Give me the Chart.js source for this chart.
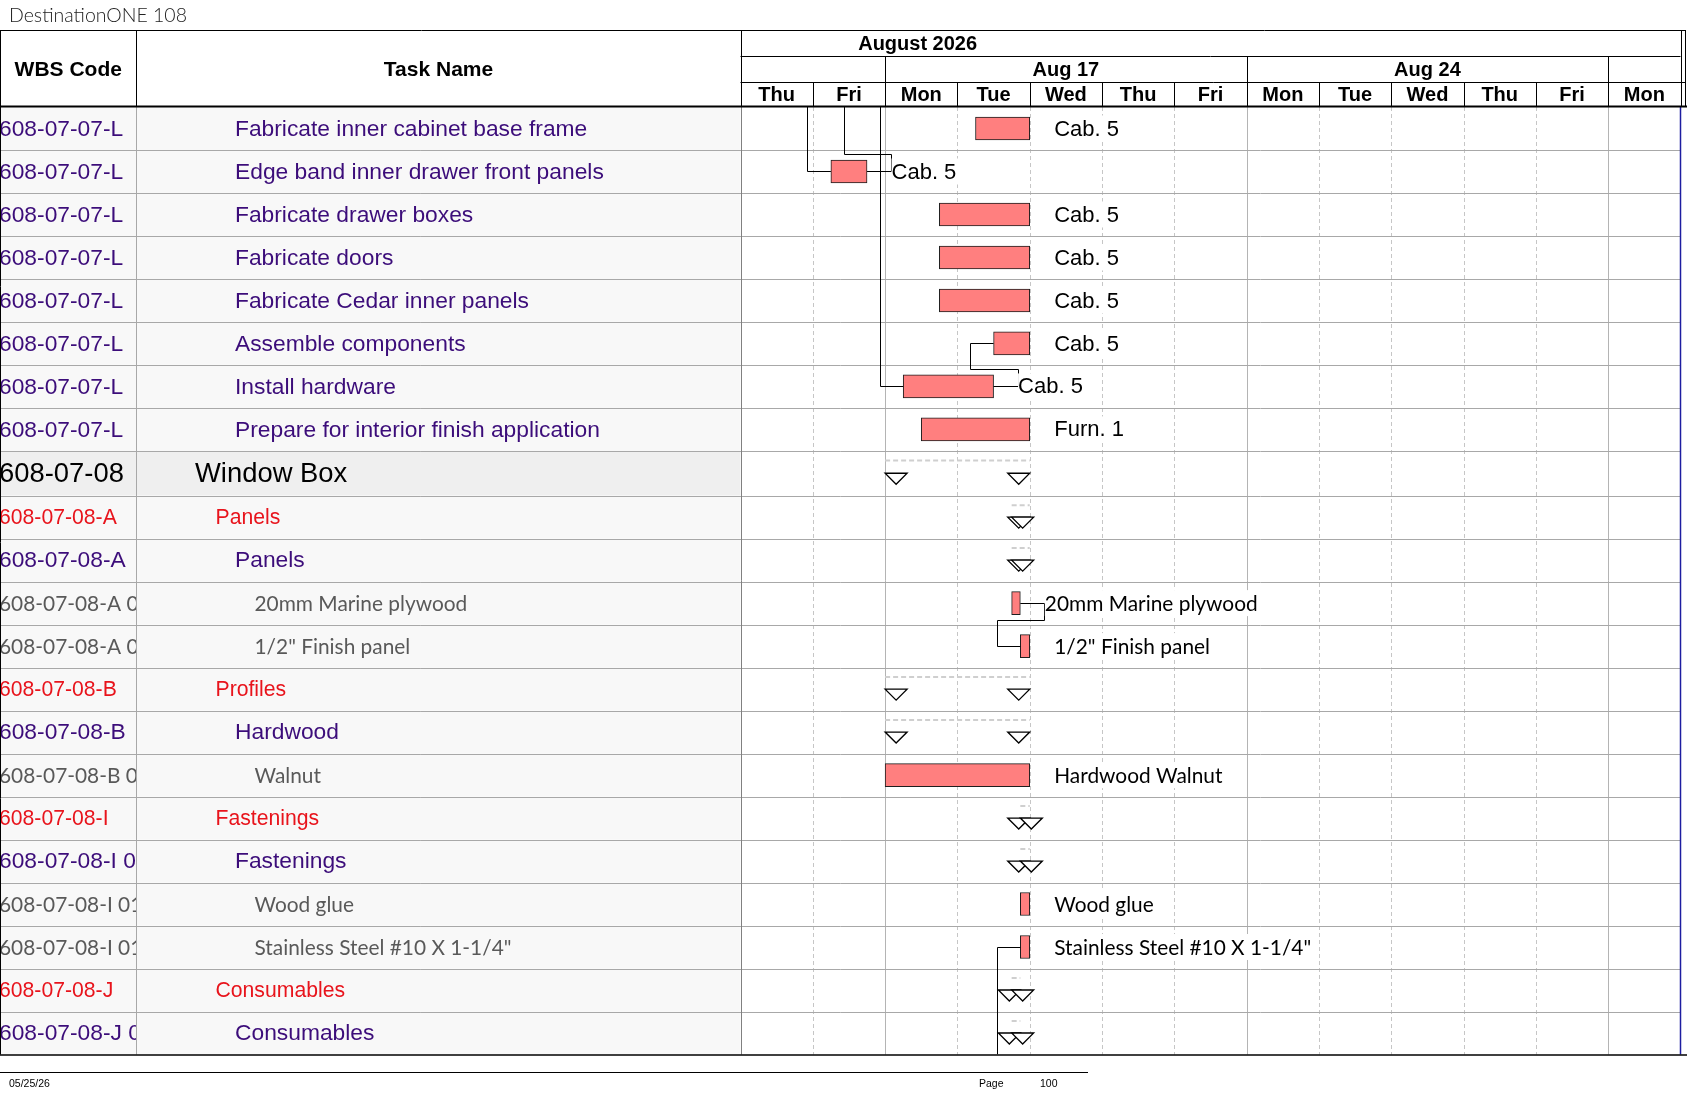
<!DOCTYPE html>
<html>
<head>
<meta charset="utf-8">
<title>DestinationONE 108</title>
<script src="https://cdn.jsdelivr.net/npm/chart.js@4.4.1/dist/chart.umd.min.js"></script>
<style>
  html, body { margin: 0; padding: 0; background: #fff; overflow: hidden; }
  canvas { display: block; }
</style>
</head>
<body>
<canvas id="gantt" width="1687" height="1097"></canvas>
<script>
// Table columns
const wbsCodes = [
    '608-07-07-L', '608-07-07-L', '608-07-07-L', '608-07-07-L', '608-07-07-L', '608-07-07-L', '608-07-07-L', '608-07-07-L',
    '608-07-08', '608-07-08-A', '608-07-08-A', '608-07-08-A 01', '608-07-08-A 02',
    '608-07-08-B', '608-07-08-B', '608-07-08-B 01',
    '608-07-08-I', '608-07-08-I 01', '608-07-08-I 01 01', '608-07-08-I 01 02',
    '608-07-08-J', '608-07-08-J 01'
];
const taskNames = [
    'Fabricate inner cabinet base frame', 'Edge band inner drawer front panels', 'Fabricate drawer boxes',
    'Fabricate doors', 'Fabricate Cedar inner panels', 'Assemble components', 'Install hardware',
    'Prepare for interior finish application',
    'Window Box', 'Panels', 'Panels', '20mm Marine plywood', '1/2" Finish panel',
    'Profiles', 'Hardwood', 'Walnut',
    'Fastenings', 'Fastenings', 'Wood glue', 'Stainless Steel #10 X 1-1/4"',
    'Consumables', 'Consumables'
];
// group = outline 1, sub = red summary, task = purple, item = grey material rows
const rowKind = [
    'task', 'task', 'task', 'task', 'task', 'task', 'task', 'task',
    'group', 'sub', 'task', 'item', 'item',
    'sub', 'task', 'item',
    'sub', 'task', 'item', 'item',
    'sub', 'task'
];

// Timeline (working days, weekends hidden)
const dayLabels = ['Thu', 'Fri', 'Mon', 'Tue', 'Wed', 'Thu', 'Fri', 'Mon', 'Tue', 'Wed', 'Thu', 'Fri', 'Mon'];
const weekLabels = ['Aug 17', 'Aug 24'];
const monthLabel = 'August 2026';

// Bars in working-day units from Thu Aug 13
const barKind = [
    'bar', 'bar', 'bar', 'bar', 'bar', 'bar', 'bar', 'bar',
    'sum', 'sum', 'sum', 'bar', 'bar',
    'sum', 'sum', 'bar',
    'sum', 'sum', 'bar', 'bar',
    'sum', 'sum'
];
const barStart = [3.25, 1.25, 2.75, 2.75, 2.75, 3.5, 2.25, 2.5,
    2.0, 3.75, 3.75, 3.75, 3.87,
    2.0, 2.0, 2.0,
    3.87, 3.87, 3.87, 3.87,
    3.75, 3.75];
const barEnd = [4.0, 1.75, 4.0, 4.0, 4.0, 4.0, 3.5, 4.0,
    4.0, 4.0, 4.0, 3.87, 4.0,
    4.0, 4.0, 4.0,
    4.0, 4.0, 4.0, 4.0,
    3.87, 3.87];
const barLabels = ['Cab. 5', 'Cab. 5', 'Cab. 5', 'Cab. 5', 'Cab. 5', 'Cab. 5', 'Cab. 5', 'Furn. 1',
    '', '', '', '20mm Marine plywood', '1/2" Finish panel',
    '', '', 'Hardwood Walnut',
    '', '', 'Wood glue', 'Stainless Steel #10 X 1-1/4"',
    '', ''];

// Finish-to-start links ('above' / 'below' = task on another page)
const links = [
    { pred: 'above', succ: 1 },
    { pred: 1, succ: 'above', succStart: 1.75 },
    { pred: 'above', succ: 6 },
    { pred: 6, succ: 5 },
    { pred: 11, succ: 12 },
    { pred: 'below', succ: 19 }
];

// row layout in row units (outline-1 rows are a bit taller)
const rowSpan = rowKind.map(k => k === 'group' ? 1.04 : 1);
const rowTopU = [];
rowSpan.reduce((acc, s, i) => { rowTopU[i] = acc; return acc + s; }, 0);
const totalRows = rowSpan.reduce((a, b) => a + b, 0);
const rowMid = i => rowTopU[i] + rowSpan[i] / 2;

const ARIAL = '"Liberation Sans", Arial, sans-serif';
const SOFT = 'Lato, "Open Sans", sans-serif';

const canvas = document.getElementById('gantt');
const measureCtx = canvas.getContext('2d');

function fitPx(text, family, weight, target) {
    measureCtx.font = `${weight} 100px ${family}`;
    return 100 * target / measureCtx.measureText(text).width;
}

const itemPx = fitPx('20mm Marine plywood', SOFT, 'normal', 213);
const titlePx = fitPx('DestinationONE 108', SOFT, '300', 178);

const kindStyle = {
    task:  { color: '#3c0d7a', font: `22.8px ${ARIAL}`, indent: 235 },
    group: { color: '#000000', font: `27.4px ${ARIAL}`, indent: 195 },
    sub:   { color: '#e8141c', font: `21.2px ${ARIAL}`, indent: 215.5 },
    item:  { color: '#595959', font: `${itemPx}px ${SOFT}`, indent: 254.5 }
};

function hLine(ctx, x1, x2, yy) {
    ctx.beginPath(); ctx.moveTo(x1, yy); ctx.lineTo(x2, yy); ctx.stroke();
}
function vLine(ctx, xx, y1, y2) {
    ctx.beginPath(); ctx.moveTo(xx, y1); ctx.lineTo(xx, y2); ctx.stroke();
}
function px(v) { return Math.round(v) + 0.5; }

const COL_WBS = 136.5;
const HEAD_TOP = 30.5;
const ROW_MONTH = 56.5;
const ROW_WEEK = 82.5;

function rowGeom(y) {
    return {
        top: i => y.getPixelForValue(rowTopU[i]),
        bottom: i => y.getPixelForValue(rowTopU[i] + rowSpan[i]),
        mid: i => y.getPixelForValue(rowMid(i))
    };
}

const ganttPlugin = {
    id: 'gantt',
    beforeDatasetsDraw(chart) {
        const { ctx, chartArea: a, scales: { x, y } } = chart;
        const g = rowGeom(y);
        ctx.save();
        // table cell backgrounds
        taskNames.forEach((_, i) => {
            ctx.fillStyle = rowKind[i] === 'group' ? '#efefef' : '#f8f8f8';
            ctx.fillRect(0, g.top(i), a.left, g.bottom(i) - g.top(i));
        });
        // day / week grid
        ctx.lineWidth = 1;
        for (let d = 1; d < dayLabels.length; d++) {
            const weekStart = dayLabels[d] === 'Mon';
            ctx.strokeStyle = weekStart ? '#b4b4b4' : '#c6c6c6';
            ctx.setLineDash(weekStart ? [] : [4, 3]);
            vLine(ctx, px(x.getPixelForValue(d)), a.top, a.bottom);
        }
        ctx.setLineDash([]);
        // row separators through table and chart
        ctx.strokeStyle = '#a8a8a8';
        for (let i = 1; i < taskNames.length; i++) {
            hLine(ctx, 0, a.right, px(g.top(i)));
        }
        // summary rows: dashed bar + end triangles
        taskNames.forEach((_, i) => {
            if (barKind[i] !== 'sum') return;
            const xs = x.getPixelForValue(barStart[i]);
            const xe = x.getPixelForValue(barEnd[i]);
            const cy = g.mid(i);
            ctx.strokeStyle = '#cfcfcf';
            ctx.lineWidth = 2;
            ctx.setLineDash([5, 3]);
            hLine(ctx, xs, xe, g.top(i) + 9.5);
            ctx.setLineDash([]);
            ctx.lineWidth = 1.3;
            ctx.strokeStyle = '#000';
            ctx.fillStyle = '#fff';
            [xe - 22, xs].forEach(tx => {
                ctx.beginPath();
                ctx.moveTo(tx, cy);
                ctx.lineTo(tx + 22, cy);
                ctx.lineTo(tx + 11, cy + 11);
                ctx.closePath();
                ctx.fill();
                ctx.stroke();
            });
        });
        ctx.restore();
    },
    afterDatasetsDraw(chart) {
        const { ctx, chartArea: a, scales: { x, y } } = chart;
        const g = rowGeom(y);
        const GAP = 24, STUB = 23.5, INSET = 4.5;
        ctx.save();
        ctx.beginPath();
        ctx.rect(a.left, a.top, a.right - a.left, a.bottom - a.top);
        ctx.clip();
        // links
        ctx.strokeStyle = '#000';
        ctx.lineWidth = 1;
        links.forEach(l => {
            let pts = [];
            if (l.pred === 'above' || l.pred === 'below') {
                const sx = x.getPixelForValue(barStart[l.succ]);
                const vx = px(sx - STUB);
                const cy = px(g.mid(l.succ));
                pts = [[vx, l.pred === 'above' ? a.top : a.bottom], [vx, cy], [sx, cy]];
            } else {
                const ex = x.getPixelForValue(barEnd[l.pred]);
                const cy = px(g.mid(l.pred));
                const start = l.succ === 'above' ? l.succStart : barStart[l.succ];
                const vx = px(x.getPixelForValue(start) - STUB);
                const up = l.succ === 'above' || l.succ < l.pred;
                const ey = px(up ? g.top(l.pred) + INSET : g.bottom(l.pred) - INSET);
                const gx = px(ex + GAP);
                pts = [[ex, cy], [gx, cy], [gx, ey], [vx, ey]];
                if (l.succ === 'above') {
                    pts.push([vx, a.top]);
                } else {
                    const sy = px(g.mid(l.succ));
                    pts.push([vx, sy], [x.getPixelForValue(start), sy]);
                }
            }
            ctx.beginPath();
            pts.forEach((p, k) => k ? ctx.lineTo(p[0], p[1]) : ctx.moveTo(p[0], p[1]));
            ctx.stroke();
        });
        // bar labels (opaque, like the source)
        ctx.textBaseline = 'middle';
        ctx.textAlign = 'left';
        barLabels.forEach((txt, i) => {
            if (!txt) return;
            const lx = x.getPixelForValue(barEnd[i]) + GAP + 0.5;
            const cy = g.mid(i) + 1;
            ctx.font = rowKind[i] === 'item' ? `${itemPx}px ${SOFT}` : `22px ${ARIAL}`;
            const w = ctx.measureText(txt).width;
            ctx.fillStyle = '#fff';
            ctx.fillRect(lx, cy - 14, w + 2, 26);
            ctx.fillStyle = '#000';
            ctx.fillText(txt, lx, cy);
        });
        ctx.restore();
    },
    afterDraw(chart) {
        const { ctx, chartArea: a, scales: { x, y } } = chart;
        const g = rowGeom(y);
        const W = chart.width;
        ctx.save();
        ctx.textBaseline = 'middle';

        // table text, clipped per column
        taskNames.forEach((name, i) => {
            const st = kindStyle[rowKind[i]];
            const cy = g.mid(i) + 1;
            ctx.font = st.font;
            ctx.fillStyle = st.color;
            ctx.textAlign = 'left';
            ctx.save();
            ctx.beginPath(); ctx.rect(0, a.top, COL_WBS, a.bottom - a.top); ctx.clip();
            ctx.fillText(wbsCodes[i], -1, cy);
            ctx.restore();
            ctx.save();
            ctx.beginPath(); ctx.rect(COL_WBS, a.top, a.left - COL_WBS, a.bottom - a.top); ctx.clip();
            ctx.fillText(name, st.indent, cy);
            ctx.restore();
        });

        // body verticals
        ctx.lineWidth = 1;
        ctx.strokeStyle = '#a8a8a8';
        vLine(ctx, COL_WBS, a.top, a.bottom);
        ctx.strokeStyle = '#808080';
        vLine(ctx, px(a.left), a.top, a.bottom);
        ctx.strokeStyle = '#000';
        vLine(ctx, 0.5, HEAD_TOP, a.bottom);
        ctx.strokeStyle = '#1c1ca0';
        ctx.lineWidth = 1.5;
        vLine(ctx, a.right, a.top, a.bottom);

        // header grid
        ctx.strokeStyle = '#000';
        ctx.lineWidth = 1;
        hLine(ctx, 0, 1686, HEAD_TOP);
        hLine(ctx, a.left, a.right, ROW_MONTH);
        hLine(ctx, a.left, 1686, ROW_WEEK);
        vLine(ctx, COL_WBS, HEAD_TOP, a.top);
        vLine(ctx, px(a.left), HEAD_TOP, a.top);
        vLine(ctx, px(a.right), HEAD_TOP, a.top);
        vLine(ctx, 1685.5, HEAD_TOP, a.top);
        const mondays = [];
        dayLabels.forEach((d, i) => { if (d === 'Mon') mondays.push(i); });
        mondays.forEach(d => vLine(ctx, px(x.getPixelForValue(d)), ROW_MONTH, ROW_WEEK));
        for (let d = 1; d < dayLabels.length; d++) {
            vLine(ctx, px(x.getPixelForValue(d)), ROW_WEEK, a.top);
        }
        ctx.lineWidth = 2;
        hLine(ctx, 0, W, a.top - 0.5);
        ctx.lineWidth = 1.5;
        hLine(ctx, 0, W, a.bottom + 0.5);

        // header text
        ctx.fillStyle = '#000';
        ctx.textAlign = 'center';
        ctx.font = `bold 21px ${ARIAL}`;
        ctx.fillText('WBS Code', COL_WBS / 2, 70);
        ctx.fillText('Task Name', (COL_WBS + a.left) / 2, 70);
        ctx.font = `bold 20px ${ARIAL}`;
        ctx.fillText(monthLabel, x.getPixelForValue(2.45), 44);
        weekLabels.forEach((lbl, k) => {
            const c = (x.getPixelForValue(mondays[k]) + x.getPixelForValue(mondays[k + 1])) / 2;
            ctx.fillText(lbl, c, 70);
        });
        dayLabels.forEach((lbl, d) => {
            ctx.fillText(lbl, x.getPixelForValue(d + 0.5), 95.5);
        });

        // title and footer
        ctx.textAlign = 'left';
        ctx.fillStyle = '#222';
        ctx.font = `300 ${titlePx}px ${SOFT}`;
        ctx.fillText('DestinationONE 108', 9, 15.5);
        ctx.fillStyle = '#000';
        ctx.lineWidth = 1;
        hLine(ctx, 0, 1088, 1072.5);
        ctx.font = `10.5px ${ARIAL}`;
        ctx.fillText('05/25/26', 9, 1084);
        ctx.fillText('Page', 979, 1084);
        ctx.fillText('100', 1040, 1084);
        ctx.restore();
    }
};

const chart = new Chart(canvas, {
    type: 'bar',
    data: {
        datasets: [{
            label: 'Tasks',
            data: taskNames
                .map((_, i) => barKind[i] === 'bar' ? { x: [barStart[i], barEnd[i]], y: rowMid(i) } : null)
                .filter(d => d !== null),
            backgroundColor: '#ff7f7f',
            borderColor: '#1e1e1e',
            borderWidth: 1,
            borderSkipped: false,
            barThickness: 23
        }]
    },
    options: {
        indexAxis: 'y',
        responsive: false,
        animation: false,
        layout: { padding: { left: 740.5, right: 6.5, top: 107, bottom: 42.5 } },
        plugins: {
            legend: { display: false },
            tooltip: { enabled: false }
        },
        scales: {
            x: { type: 'linear', min: 0, max: dayLabels.length, display: false },
            y: { type: 'linear', min: 0, max: totalRows, reverse: true, offset: false, display: false }
        }
    },
    plugins: [ganttPlugin]
});
</script>
</body>
</html>
